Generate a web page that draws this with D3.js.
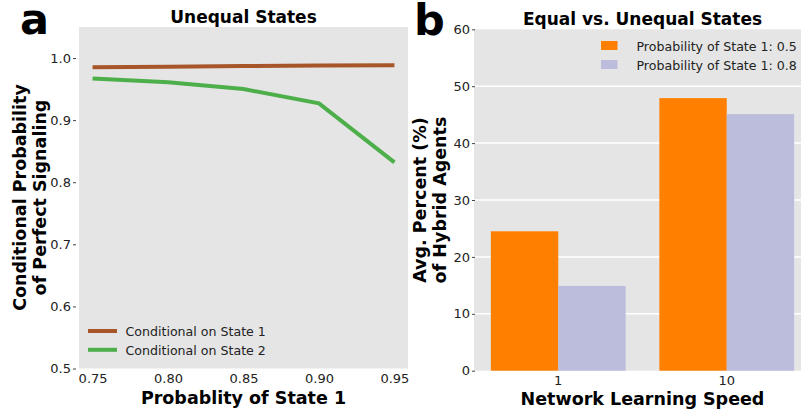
<!DOCTYPE html>
<html><head><meta charset="utf-8">
<script src="https://cdn.jsdelivr.net/npm/d3@7"></script>
<style>body{margin:0;background:#fff}svg{display:block;font-family:"DejaVu Sans",Verdana,sans-serif}</style>
</head><body><svg id="c" width="801" height="411"></svg>
<script>
// Panel a data
const probState1 = [0.75, 0.80, 0.85, 0.90, 0.95];
const condState1 = [0.985, 0.986, 0.987, 0.988, 0.9885];
const condState2 = [0.967, 0.961, 0.950, 0.927, 0.832];
const aYTicks = [0.5, 0.6, 0.7, 0.8, 0.9, 1.0];
const aXTicks = [0.75, 0.80, 0.85, 0.90, 0.95];
const aSeriesNames = ["Conditional on State 1", "Conditional on State 2"];
// Panel b data
const speeds = ["1", "10"];
const prob05 = [24.5, 47.9];
const prob08 = [14.9, 45.1];
const bSeriesNames = ["Probability of State 1: 0.5", "Probability of State 1: 0.8"];
const bYTicks = [0, 10, 20, 30, 40, 50, 60];

const svg = d3.select("#c");
const bg = "#e5e5e5";
const tickCol = "#444";
const titleSize = 17, axTitleSize = 17.5, legSize = 12.6, tickSize = 13;

// ---------- Panel a ----------
const ax = d3.scaleLinear().domain([0.741, 0.959]).range([79, 408]);
const ay = d3.scaleLinear().domain([0.5, 1.05]).range([368.5, 27]);
svg.append("rect").attr("x", 79).attr("y", 27).attr("width", 329).attr("height", 341.5).attr("fill", bg);

const gax = svg.append("g").attr("transform", "translate(0,368.5)")
  .call(d3.axisBottom(ax).tickValues(aXTicks).tickFormat(d3.format(".2f")).tickSize(0).tickPadding(5));
const gay = svg.append("g").attr("transform", "translate(76,0)")
  .call(d3.axisLeft(ay).tickValues(aYTicks).tickFormat(d3.format(".1f")).tickSize(3).tickPadding(2));
[gax, gay].forEach(g => {
  g.select(".domain").remove();
  g.selectAll("text").attr("font-size", tickSize).attr("fill", "#222").attr("font-family", "DejaVu Sans");
  g.selectAll("line").attr("stroke", tickCol);
});
gax.selectAll("text").attr("dy", "0.71em");

const colA = ["#a65628", "#4daf4a"];
const line = d3.line().x((d, i) => ax(probState1[i])).y(d => ay(d));
[condState1, condState2].forEach((s, k) => {
  svg.append("path").datum(s).attr("d", line).attr("fill", "none")
    .attr("stroke", colA[k]).attr("stroke-width", 4);
});
// legend a
aSeriesNames.forEach((n, k) => {
  const y = 331 + k * 18.8;
  svg.append("line").attr("x1", 88).attr("x2", 117).attr("y1", y).attr("y2", y)
    .attr("stroke", colA[k]).attr("stroke-width", 4);
  svg.append("text").attr("x", 125.5).attr("y", y + 4.7).attr("font-size", legSize).attr("fill", "#222").text(n);
});
svg.append("text").attr("x", 243.5).attr("y", 22.7).attr("text-anchor", "middle")
  .attr("font-size", titleSize).attr("font-weight", "bold").text("Unequal States");
svg.append("text").attr("x", 243.5).attr("y", 403.5).attr("text-anchor", "middle")
  .attr("font-size", axTitleSize).attr("font-weight", "bold").text("Probablity of State 1");
const ayt = svg.append("text").attr("transform", "translate(26,197.5) rotate(-90)")
  .attr("text-anchor", "middle").attr("font-size", axTitleSize).attr("font-weight", "bold");
ayt.append("tspan").attr("x", 0).attr("y", 0).text("Conditional Probability");
ayt.append("tspan").attr("x", 0).attr("y", 20).text("of Perfect Signaling");
svg.append("text").attr("x", 20).attr("y", 34).attr("font-size", 43).attr("font-weight", "bold").text("a");

// ---------- Panel b ----------
const bx = d3.scaleBand().domain(speeds).range([474, 811]).paddingInner(0.2).paddingOuter(0.1);
const bsub = d3.scaleBand().domain([0, 1]).range([0, bx.bandwidth()]);
const by = d3.scaleLinear().domain([0, 60]).range([370.7, 29.3]);
svg.append("rect").attr("x", 474).attr("y", 29.3).attr("width", 337).attr("height", 341.4).attr("fill", bg);
svg.append("g").selectAll("line").data(bYTicks.filter(d => d > 0 && d < 60)).join("line")
  .attr("x1", 474).attr("x2", 811).attr("y1", d => by(d)).attr("y2", d => by(d))
  .attr("stroke", "#fff").attr("stroke-width", 1.5);

const colB = ["#ff7f00", "#bcbddc"];
[prob05, prob08].forEach((s, k) => {
  svg.append("g").selectAll("rect").data(s).join("rect")
    .attr("x", (d, i) => bx(speeds[i]) + bsub(k)).attr("width", bsub.bandwidth())
    .attr("y", d => by(d)).attr("height", d => by(0) - by(d)).attr("fill", colB[k]);
});
const gbx = svg.append("g").attr("transform", "translate(0,370.7)")
  .call(d3.axisBottom(bx).tickSize(0).tickPadding(5));
const gby = svg.append("g").attr("transform", "translate(475,0)")
  .call(d3.axisLeft(by).tickValues(bYTicks).tickSize(3).tickPadding(2));
[gbx, gby].forEach(g => {
  g.select(".domain").remove();
  g.selectAll("text").attr("font-size", tickSize).attr("fill", "#222").attr("font-family", "DejaVu Sans");
  g.selectAll("line").attr("stroke", tickCol);
});
gbx.selectAll("text").attr("dy", "0.71em");

bSeriesNames.forEach((n, k) => {
  const y = 41 + k * 19;
  svg.append("rect").attr("x", 601).attr("y", y).attr("width", 16.5).attr("height", 9).attr("fill", colB[k]);
  svg.append("text").attr("x", 636.5).attr("y", y + 9.6).attr("font-size", legSize).attr("fill", "#222").text(n);
});
svg.append("text").attr("x", 642.5).attr("y", 24.8).attr("text-anchor", "middle")
  .attr("font-size", titleSize).attr("font-weight", "bold").text("Equal vs. Unequal States");
svg.append("text").attr("x", 642.5).attr("y", 404.5).attr("text-anchor", "middle")
  .attr("font-size", axTitleSize).attr("font-weight", "bold").text("Network Learning Speed");
const byt = svg.append("text").attr("transform", "translate(426,200) rotate(-90)")
  .attr("text-anchor", "middle").attr("font-size", axTitleSize).attr("font-weight", "bold");
byt.append("tspan").attr("x", 0).attr("y", 0).text("Avg. Percent (%)");
byt.append("tspan").attr("x", 0).attr("y", 20).text("of Hybrid Agents");
svg.append("text").attr("x", 414).attr("y", 35).attr("font-size", 43).attr("font-weight", "bold").text("b");
</script></body></html>
